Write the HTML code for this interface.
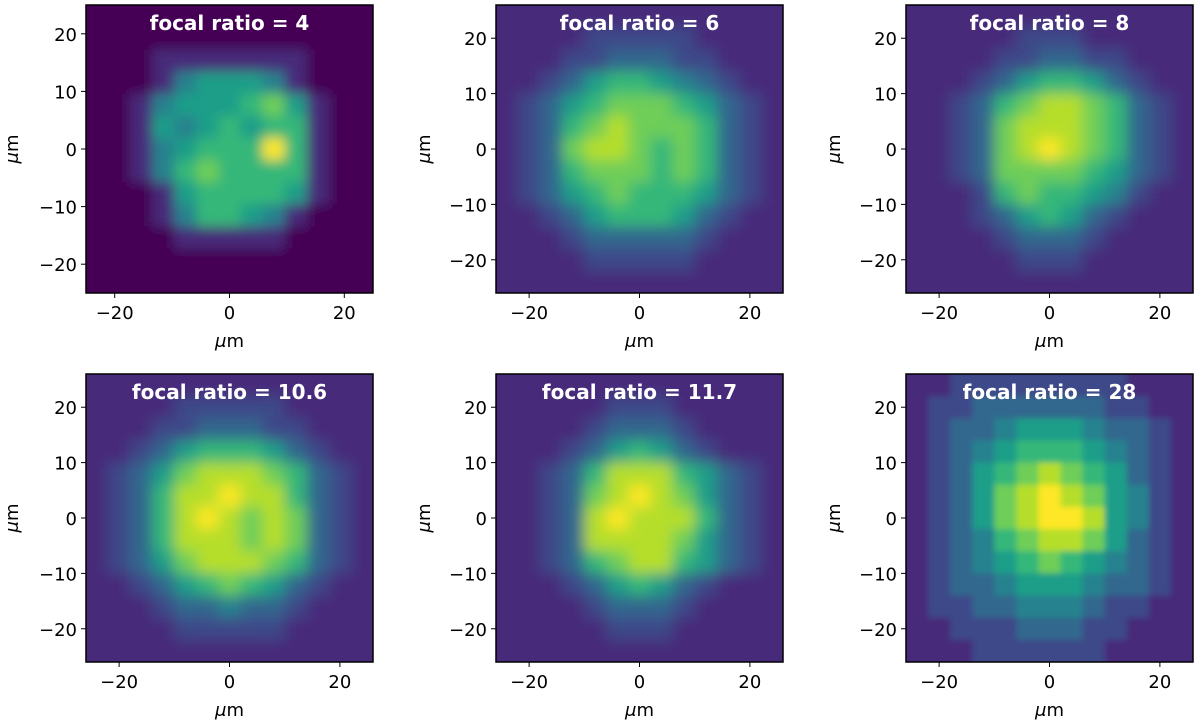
<!DOCTYPE html>
<html><head><meta charset="utf-8"><style>
html,body{margin:0;padding:0;background:#fff;width:1200px;height:725px;overflow:hidden}
svg text{font-family:"DejaVu Sans","Liberation Sans",sans-serif}
</style></head><body>
<svg id="fig" width="1200" height="725" xmlns="http://www.w3.org/2000/svg"></svg>
<script>
const titles = ["focal ratio = 4","focal ratio = 6","focal ratio = 8","focal ratio = 10.6","focal ratio = 11.7","focal ratio = 28"];
const ranges = [25,26,26,26,26,26];
const ticks = [-20,-10,0,10,20];
const xticks = [-20,0,20];
const blurs = [6,7,7,7,7,3];
const grid1 = ["0000000000000","0000000000000","0001111111000","0001455541000","0014555675100","0015456566100","0014566696100","0014676666100","0001566665100","0001466541000","0000111110000","0000000000000","0000000000000"];
const grid2 = ["1111111111111","1111222221111","1112233322111","1123566543211","1235677765321","1236787776321","1237887676321","1236777676321","1235676665321","1123566653211","1112333332111","1111222221111","1111111111111"];
const grid3 = ["1111111111111","1111122211111","1111223322111","1112356653211","1123678876321","1123788876321","1123789876321","1123777765321","1112676654211","1112356532111","1111233321111","1111122211111","1111111111111"];
const grid4 = ["1111111111111","1111222221111","1112233322111","1123566653211","1235788876321","1236889886321","1236898787321","1236888787321","1235788876321","1123567653211","1112334332111","1111222221111","1111111111111"];
const grid5 = ["1111111111111","1111122211111","1111233321111","1112356532111","1123688865321","1123789875321","1123898886321","1123888875321","1123678865321","1112356532111","1111233321111","1111122211111","1111111111111"];
const grid6 = ["1122222222111","1223333332211","1233455543321","1234566654321","1235678765321","1235789875421","1235789985421","1234678875321","1234567654321","1233455543321","1223344432211","1122233322111","1112222221111"];
const grids = [grid1,grid2,grid3,grid4,grid5,grid6];
const viridis = ["#440154","#472a7a","#3e4989","#31688e","#26828e","#1f9e89","#35b779","#6ece58","#b5de2b","#fde725"];

const NS="http://www.w3.org/2000/svg";
const fig=document.getElementById('fig');
function mk(tag,attrs,parent){const e=document.createElementNS(NS,tag);for(const k in attrs)e.setAttribute(k,attrs[k]);(parent||fig).appendChild(e);return e;}
const defs=mk('defs',{});
const PX=[86,496,906], PY=[5,374], W=287, H=288, PAD=40;

grids.forEach((g,p)=>{
  const x0=PX[p%3], y0=PY[Math.floor(p/3)], R=ranges[p];
  const sx=v=>x0+(v+R)/(2*R)*W;
  const sy=v=>y0+(R-v)/(2*R)*H;
  const cp=mk('clipPath',{id:'cp'+p},defs);
  mk('rect',{x:x0,y:y0,width:W,height:H},cp);
  const f=mk('filter',{id:'bl'+p,x:x0-PAD,y:y0-PAD,width:W+2*PAD,height:H+2*PAD,filterUnits:'userSpaceOnUse'},defs);
  mk('feGaussianBlur',{stdDeviation:blurs[p]},f);
  const panel=mk('g',{'clip-path':'url(#cp'+p+')'});
  
  
  const cells=mk('g',{filter:'url(#bl'+p+')'},panel);
  const n=g.length, cw=2*R/n;
  g.forEach((row,r)=>{
    for(let c=0;c<row.length;c++){
      const vx=-R+c*cw, vy=R-r*cw;
      let X1=sx(vx), X2=sx(vx+cw)+0.6, Y1=sy(vy), Y2=sy(vy-cw)+0.6;
      if(c===0)X1-=PAD; if(c===n-1)X2+=PAD; if(r===0)Y1-=PAD; if(r===n-1)Y2+=PAD;
      const rc=mk('rect',{x:X1,y:Y1,width:X2-X1,height:Y2-Y1,fill:viridis[+row[c]]},cells);
      
      
    }
  });
  const fr=mk('rect',{x:x0,y:y0,width:W,height:H,fill:'none',stroke:'#000','stroke-width':1.5});
  
  
  const t=mk('text',{x:x0+W/2,y:y0+25,'text-anchor':'middle',fill:'#fff','font-size':20,'font-weight':'bold'});
  t.textContent=titles[p];
  
  
  ticks.forEach(v=>{
    const y=sy(v);
    mk('line',{x1:x0-5,x2:x0,y1:y,y2:y,stroke:'#000','stroke-width':1});
    const tl=mk('text',{x:x0-9,y:y+7,'text-anchor':'end','font-size':18});
    tl.textContent=(v<0?'\u2212'+(-v):String(v));
    
    
  });
  xticks.forEach(v=>{
    const x=sx(v);
    mk('line',{x1:x,x2:x,y1:y0+H,y2:y0+H+5,stroke:'#000','stroke-width':1});
    const tl=mk('text',{x:x,y:y0+H+26,'text-anchor':'middle','font-size':18});
    tl.textContent=(v<0?'\u2212'+(-v):String(v));
    
    
  });
  const xl=mk('text',{x:x0+W/2,y:y0+H+54,'text-anchor':'middle','font-size':18});
  xl.innerHTML='<tspan font-style="italic">μ</tspan>m';
  
  
  const yx=x0-(p%3===0?68:66), yy=y0+H/2;
  const yl=mk('text',{x:yx,y:yy,'text-anchor':'middle','font-size':18,transform:'rotate(-90 '+yx+' '+yy+')'});
  yl.innerHTML='<tspan font-style="italic">μ</tspan>m';
  
  
});
</script>
</body></html>
